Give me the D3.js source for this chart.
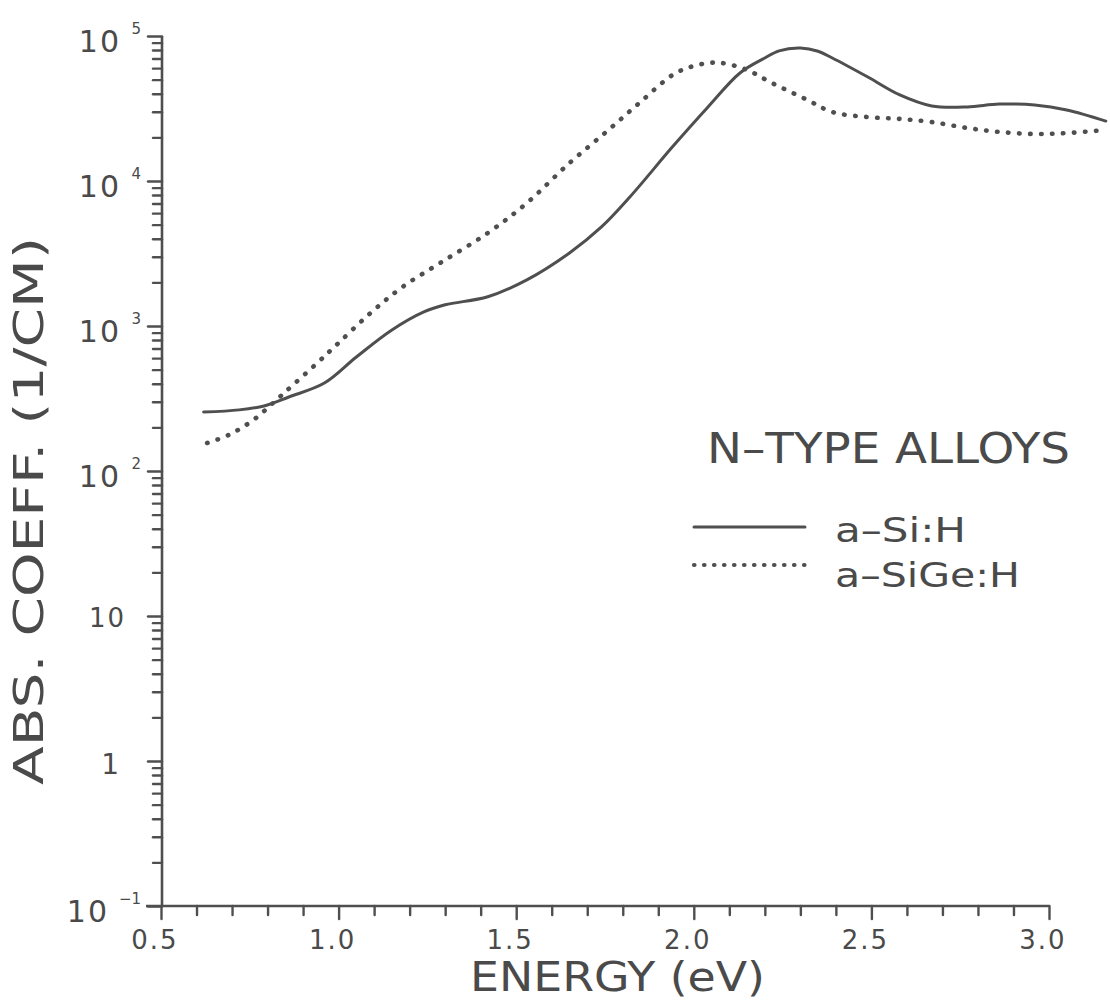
<!DOCTYPE html>
<html>
<head>
<meta charset="utf-8">
<script src="https://cdn.jsdelivr.net/npm/d3@7"></script>
<style>
  html, body { margin: 0; padding: 0; background: #fff; }
  svg { display: block; }
  text { font-family: "DejaVu Sans", sans-serif; fill: #4a4a4a; }
</style>
</head>
<body>
<svg id="chart" width="1110" height="1005"></svg>
<script>
// Absorption coefficient (1/cm) versus photon energy (eV) for n-type alloys
const siHEnergy = [0.62, 0.72, 0.79, 0.86, 0.96, 1.05, 1.15, 1.24, 1.30, 1.42, 1.53, 1.65, 1.74, 1.82, 1.94, 2.04, 2.13, 2.20, 2.24, 2.30, 2.35, 2.39, 2.49, 2.58, 2.67, 2.77, 2.86, 2.96, 3.05, 3.16];
const siHAlpha  = [255, 264, 281, 324, 404, 611, 938, 1250, 1400, 1590, 2080, 3190, 4820, 7760, 17200, 32400, 55600, 70500, 79000, 82600, 78500, 70500, 52100, 39200, 32900, 32400, 33900, 33400, 30900, 25900];

const siGeHEnergy = [0.63, 0.69, 0.76, 0.84, 0.94, 1.00, 1.09, 1.18, 1.29, 1.42, 1.53, 1.65, 1.76, 1.85, 1.94, 1.99, 2.04, 2.08, 2.15, 2.22, 2.32, 2.39, 2.49, 2.58, 2.67, 2.77, 2.86, 2.96, 3.05, 3.16];
const siGeHAlpha  = [156, 177, 225, 334, 556, 764, 1230, 1860, 2760, 4380, 7050, 13300, 22500, 35100, 53800, 61100, 65100, 65100, 58300, 47400, 36200, 29900, 27600, 26800, 25500, 23200, 21800, 21100, 21400, 22500];

const seriesNames = ["a–Si:H", "a–SiGe:H"];
const legendTitle = "N–TYPE  ALLOYS";

const xMajorTicks = [0.5, 1.0, 1.5, 2.0, 2.5, 3.0];
const xTickLabels = ["0.5", "1.0", "1.5", "2.0", "2.5", "3.0"];
const xMinorTicks = [0.6, 0.7, 0.8, 0.9, 1.1, 1.2, 1.3, 1.4, 1.6, 1.7, 1.8, 1.9, 2.1, 2.2, 2.3, 2.4, 2.6, 2.7, 2.8, 2.9];

const yDecades = [0.1, 1, 10, 100, 1000, 10000, 100000];
const yTickBase = ["10", "1", "10", "10", "10", "10", "10"];
const yTickExp  = ["−1", "", "", "2", "3", "4", "5"];
const yMinorMultipliers = [2, 3, 4, 5, 6, 7, 8, 9];

const xTitle = "ENERGY  (eV)";
const yTitle = "ABS.  COEFF.  (1/CM)";

const ink = "#4f4f4f";

const svg = d3.select("#chart");

const x = d3.scaleLinear().domain([0.5, 3.0]).range([161, 1049]);
const y = d3.scaleLog().domain([0.1, 100000]).range([906, 36]);

const yMinorTicks = [];
yDecades.slice(0, -1).forEach(d => yMinorMultipliers.forEach(m => yMinorTicks.push(d * m)));

function styleAxis(g) {
  g.select(".domain").remove();
  g.selectAll(".tick line").attr("stroke", ink).attr("stroke-width", 2.4).attr("stroke-linecap", "round");
  g.selectAll(".tick text").remove();
}

// Y axis: minor and major ticks pointing left
svg.append("g").attr("transform", "translate(162,0)")
  .call(d3.axisLeft(y).tickValues(yMinorTicks).tickSize(9).tickFormat(""))
  .call(styleAxis);
svg.append("g").attr("transform", "translate(162,0)")
  .call(d3.axisLeft(y).tickValues(yDecades).tickSize(14).tickFormat(""))
  .call(styleAxis);

// X axis: ticks pointing down
svg.append("g").attr("transform", "translate(0,906)")
  .call(d3.axisBottom(x).tickValues(xMinorTicks).tickSize(9).tickFormat(""))
  .call(styleAxis);
svg.append("g").attr("transform", "translate(0,906)")
  .call(d3.axisBottom(x).tickValues(xMajorTicks).tickSize(13).tickFormat(""))
  .call(styleAxis);

// Axis lines
svg.append("line")
  .attr("x1", 162).attr("x2", 162).attr("y1", y(100000)).attr("y2", y(0.1))
  .attr("stroke", ink).attr("stroke-width", 2.6);
svg.append("line")
  .attr("x1", 146).attr("x2", x(3.0)).attr("y1", y(0.1)).attr("y2", y(0.1))
  .attr("stroke", ink).attr("stroke-width", 2.6);

// Y tick labels with exponents
yDecades.forEach((d, i) => {
  const ty = y(d);
  const hasExp = yTickExp[i] !== "";
  const g = svg.append("g");
  if (hasExp) {
    const supRight = 141;
    g.append("text")
      .attr("x", supRight).attr("y", ty - 2)
      .attr("text-anchor", "end")
      .style("font-size", "15px")
      .text(yTickExp[i]);
    const supW = yTickExp[i].length > 1 ? 20 : 8;
    g.append("text")
      .attr("x", supRight - supW - 12).attr("y", ty + 16)
      .attr("text-anchor", "end")
      .style("font-size", "30px")
      .attr("letter-spacing", "2px")
      .text(yTickBase[i]);
  } else {
    g.append("text")
      .attr("x", yTickBase[i] === "1" ? 121 : 126).attr("y", ty + (yTickBase[i] === "1" ? 13 : 11))
      .attr("text-anchor", "end")
      .style("font-size", yTickBase[i] === "1" ? "28px" : "26px")
      .attr("letter-spacing", "2px")
      .text(yTickBase[i]);
  }
});

// X tick labels
svg.append("g").selectAll("text")
  .data(xMajorTicks)
  .join("text")
  .attr("x", d => x(d) - 6)
  .attr("y", 949)
  .attr("text-anchor", "middle")
  .style("font-size", "26px")
  .attr("letter-spacing", "2px")
  .text((d, i) => xTickLabels[i]);

// Axis titles
svg.append("text")
  .attr("x", 470).attr("y", 991)
  .attr("textLength", 295).attr("lengthAdjust", "spacingAndGlyphs")
  .style("font-size", "40px")
  .text(xTitle);

svg.append("text")
  .attr("transform", "translate(43,785) rotate(-90)")
  .attr("x", 0).attr("y", 0)
  .attr("textLength", 548).attr("lengthAdjust", "spacingAndGlyphs")
  .style("font-size", "41px")
  .text(yTitle);

// Curves
const line = d3.line()
  .x(d => x(d[0]))
  .y(d => y(d[1]))
  .curve(d3.curveCatmullRom.alpha(0.5));

const siH = siHEnergy.map((e, i) => [e, siHAlpha[i]]);
const siGeH = siGeHEnergy.map((e, i) => [e, siGeHAlpha[i]]);

svg.append("path")
  .datum(siH)
  .attr("d", line)
  .attr("fill", "none")
  .attr("stroke", ink)
  .attr("stroke-width", 3)
  .attr("stroke-linecap", "round");

svg.append("path")
  .datum(siGeH)
  .attr("d", line)
  .attr("fill", "none")
  .attr("stroke", ink)
  .attr("stroke-width", 4.6)
  .attr("stroke-linecap", "round")
  .attr("stroke-dasharray", "0.5 10.5");

// Legend
svg.append("text")
  .attr("x", 707).attr("y", 463)
  .attr("textLength", 363).attr("lengthAdjust", "spacingAndGlyphs")
  .style("font-size", "42px")
  .text(legendTitle);

const legendRows = [
  { name: seriesNames[0], ly: 527, ty: 542, w: 131, dash: null, sw: 3 },
  { name: seriesNames[1], ly: 565, ty: 587, w: 185, dash: "0.5 9.5", sw: 4.2 }
];
legendRows.forEach(r => {
  svg.append("line")
    .attr("x1", 694).attr("x2", 805).attr("y1", r.ly).attr("y2", r.ly)
    .attr("stroke", ink).attr("stroke-width", r.sw).attr("stroke-linecap", "round")
    .attr("stroke-dasharray", r.dash);
  svg.append("text")
    .attr("x", 835).attr("y", r.ty)
    .attr("textLength", r.w).attr("lengthAdjust", "spacingAndGlyphs")
    .style("font-size", "33px")
    .text(r.name);
});
</script>
</body>
</html>
